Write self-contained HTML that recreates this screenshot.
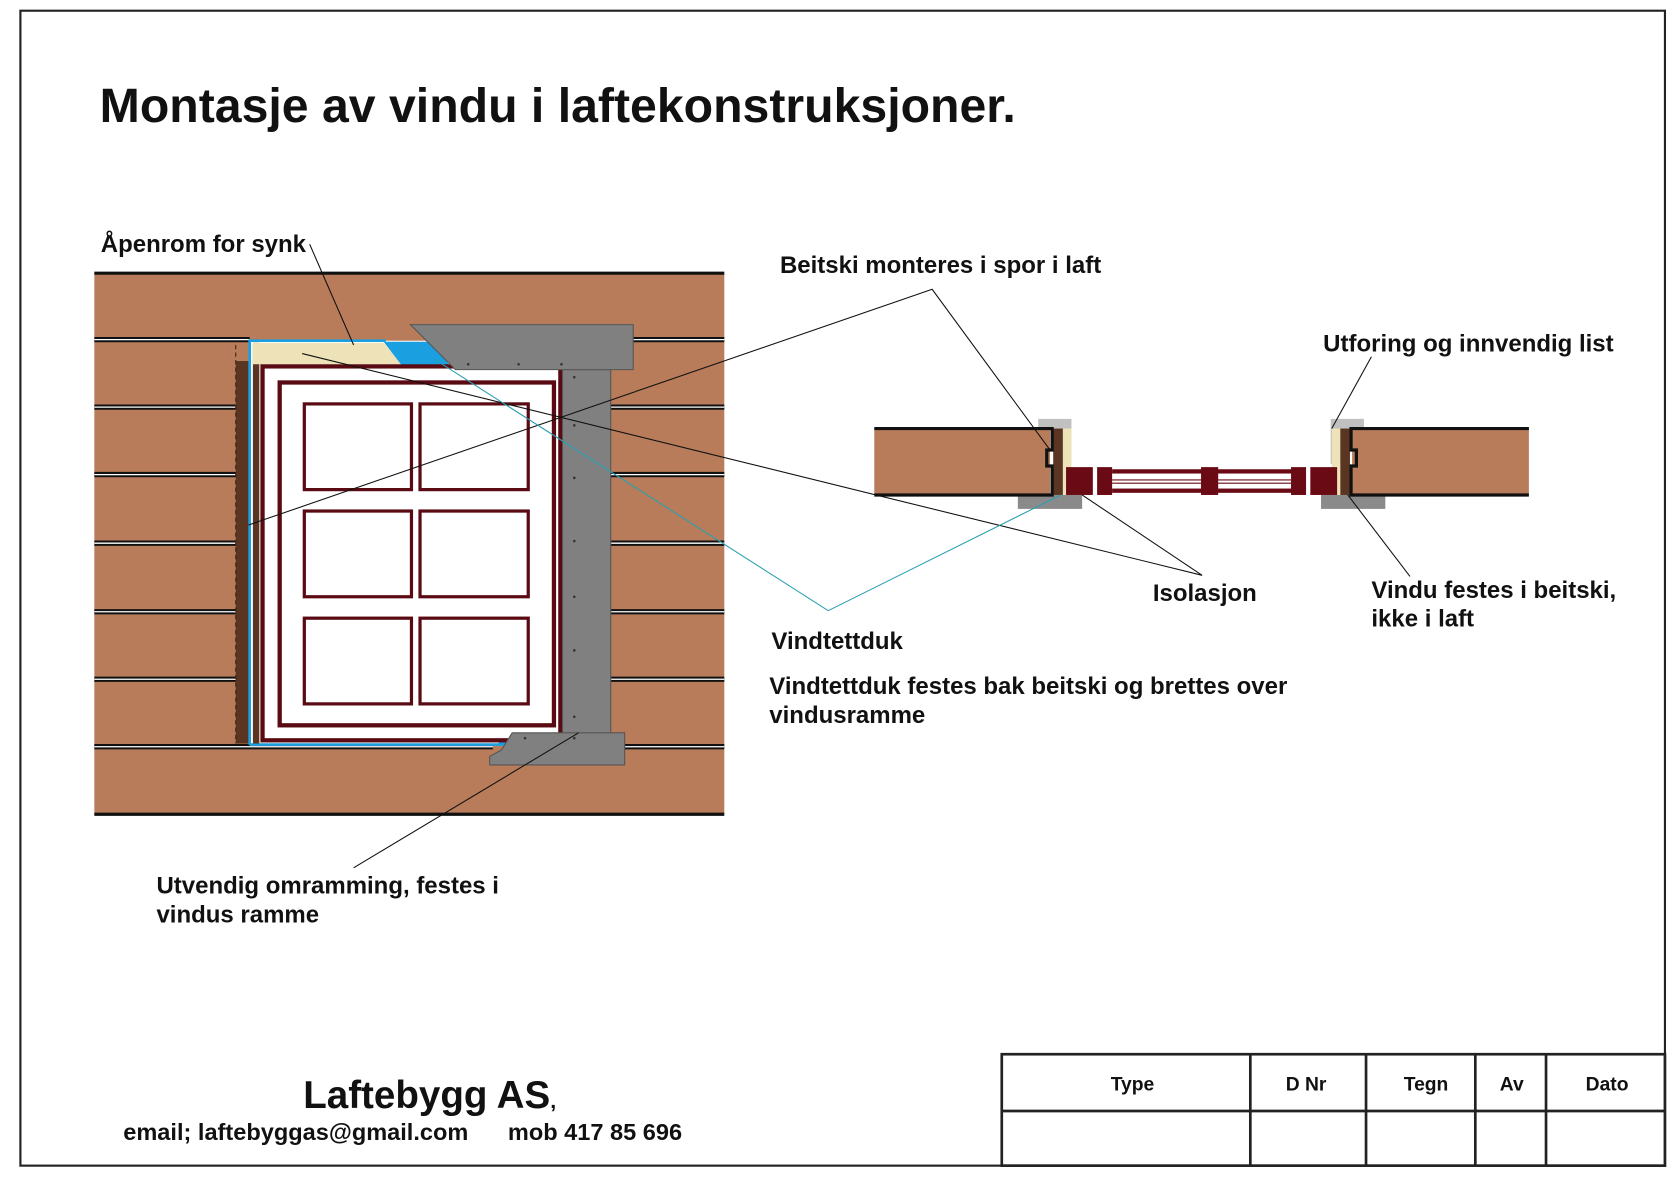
<!DOCTYPE html>
<html><head><meta charset="utf-8"><style>
html,body{margin:0;padding:0;background:#fff;}
svg{display:block;}
text{font-family:"Liberation Sans",Arial,sans-serif;font-weight:bold;fill:#111;}
</style></head><body>
<svg width="1680" height="1186" viewBox="0 0 1568 1107" xmlns="http://www.w3.org/2000/svg">
<rect x="19" y="10" width="1535" height="1078" fill="#fff" stroke="#222" stroke-width="2"/>
<text x="93" y="114" font-size="45">Montasje av vindu i laftekonstruksjoner.</text>

<!-- wall -->
<rect x="88" y="255" width="588" height="505" fill="#b87c5a"/>
<g stroke="#111" stroke-width="3">
<line x1="88" y1="255" x2="676" y2="255"/>
<line x1="88" y1="760" x2="676" y2="760"/>
</g>
<g stroke="#111" stroke-width="5">
<line x1="88" y1="317" x2="233" y2="317"/><line x1="590" y1="317" x2="676" y2="317"/>
<line x1="88" y1="380" x2="233" y2="380"/><line x1="570" y1="380" x2="676" y2="380"/>
<line x1="88" y1="443" x2="233" y2="443"/><line x1="570" y1="443" x2="676" y2="443"/>
<line x1="88" y1="507" x2="233" y2="507"/><line x1="570" y1="507" x2="676" y2="507"/>
<line x1="88" y1="571" x2="233" y2="571"/><line x1="570" y1="571" x2="676" y2="571"/>
<line x1="88" y1="634" x2="233" y2="634"/><line x1="570" y1="634" x2="676" y2="634"/>
<line x1="88" y1="697" x2="460" y2="697"/><line x1="583" y1="697" x2="676" y2="697"/>
</g>
<g stroke="#fff" stroke-width="1.2">
<line x1="88" y1="317" x2="233" y2="317"/><line x1="590" y1="317" x2="676" y2="317"/>
<line x1="88" y1="380" x2="233" y2="380"/><line x1="570" y1="380" x2="676" y2="380"/>
<line x1="88" y1="443" x2="233" y2="443"/><line x1="570" y1="443" x2="676" y2="443"/>
<line x1="88" y1="507" x2="233" y2="507"/><line x1="570" y1="507" x2="676" y2="507"/>
<line x1="88" y1="571" x2="233" y2="571"/><line x1="570" y1="571" x2="676" y2="571"/>
<line x1="88" y1="634" x2="233" y2="634"/><line x1="570" y1="634" x2="676" y2="634"/>
<line x1="88" y1="697" x2="460" y2="697"/><line x1="583" y1="697" x2="676" y2="697"/>
</g>
<!-- opening -->
<rect x="220" y="337" width="13" height="357" fill="#5a3522"/>
<line x1="220" y1="322" x2="220" y2="694" stroke="#3a2010" stroke-dasharray="4,3"/>
<rect x="233" y="318" width="300" height="378" fill="#fff"/>
<polyline points="233,695 233,318 360,318" fill="none" stroke="#1aa0e0" stroke-width="2.5"/>
<line x1="233" y1="695" x2="470" y2="695" stroke="#1aa0e0" stroke-width="2.5"/>
<rect x="236" y="320" width="6" height="374" fill="#5a3522"/>
<polygon points="236,320 358,320 375,340 236,340" fill="#ede2b8"/>
<polygon points="358,319 405,319 422,345 378,345" fill="#1aa0e0"/>
<polygon points="470,684 488,684 478,696 464,696" fill="#1aa0e0"/>
<rect x="245" y="342" width="278" height="349" fill="#fff" stroke="#5a0a12" stroke-width="4"/>
<rect x="261" y="357" width="256" height="320" fill="#fff" stroke="#5a0a12" stroke-width="4"/>
<g fill="#fff" stroke="#5a0a12" stroke-width="3">
<rect x="284" y="377" width="100" height="80"/><rect x="392" y="377" width="101" height="80"/>
<rect x="284" y="477" width="100" height="80"/><rect x="392" y="477" width="101" height="80"/>
<rect x="284" y="577" width="100" height="80"/><rect x="392" y="577" width="101" height="80"/>
</g>
<!-- grey boards -->
<rect x="525" y="345" width="45" height="340" fill="#808080" stroke="#555" stroke-width="1"/>
<polygon points="383,303 591,303 591,345 425,345" fill="#808080" stroke="#555" stroke-width="1"/>
<polygon points="478,684 583,684 583,714 457,714 457,706 468,700" fill="#808080" stroke="#555" stroke-width="1"/>
<g fill="#333">
<circle cx="437" cy="340" r="1.2"/><circle cx="484" cy="340" r="1.2"/><circle cx="524" cy="340" r="1.2"/>
<circle cx="536" cy="352" r="1.2"/><circle cx="536" cy="397" r="1.2"/><circle cx="536" cy="446" r="1.2"/><circle cx="536" cy="505" r="1.2"/><circle cx="536" cy="557" r="1.2"/><circle cx="536" cy="607" r="1.2"/><circle cx="536" cy="669" r="1.2"/><circle cx="536" cy="689" r="1.2"/><circle cx="490" cy="689" r="1.2"/>
</g>

<!-- section -->
<rect x="816" y="400" width="164" height="62" fill="#b87c5a"/>
<rect x="1262" y="400" width="165" height="62" fill="#b87c5a"/>
<polygon points="969,391 1000,391 1000,433 992,433 992,400 969,400" fill="#c0c0c0"/>
<polygon points="1242,391 1273,391 1273,400 1252,400 1252,433 1242,433" fill="#c0c0c0"/>
<rect x="950" y="462" width="60" height="13" fill="#8a8a8a"/>
<rect x="1233" y="462" width="60" height="13" fill="#8a8a8a"/>
<rect x="992" y="400" width="8" height="62" fill="#ede2b8"/>
<rect x="1243" y="400" width="8" height="62" fill="#ede2b8"/>
<rect x="983" y="400" width="9" height="62" fill="#5a3522"/>
<rect x="1251" y="400" width="9" height="62" fill="#5a3522"/>
<g stroke="#111" stroke-width="3" fill="none">
<polyline points="816,400 982,400 982,420 977,420 977,435 982,435 982,462 816,462"/>
<polyline points="1427,400 1261,400 1261,420 1266,420 1266,435 1261,435 1261,462 1427,462"/>
</g>
<g fill="#6a0a14">
<rect x="995" y="436" width="25" height="26"/><rect x="1024" y="436" width="14" height="26"/>
<rect x="1038" y="438" width="172" height="4"/><rect x="1038" y="456" width="172" height="4"/>
<rect x="1121" y="436" width="16" height="26"/>
<rect x="1205" y="436" width="14" height="26"/><rect x="1223" y="436" width="25" height="26"/>
</g>
<line x1="1038" y1="448" x2="1205" y2="448" stroke="#6a0a14" stroke-width="1"/>
<line x1="1038" y1="451" x2="1205" y2="451" stroke="#6a0a14" stroke-width="1"/>

<!-- leaders -->
<g stroke="#111" stroke-width="1" fill="none">
<line x1="289" y1="228" x2="330" y2="322"/>
<polyline points="232,490 870,270 980,420"/>
<polyline points="282,330 1122,537 1010,462"/>
<line x1="330" y1="810" x2="540" y2="684"/>
<line x1="1280" y1="333" x2="1243" y2="400"/>
<line x1="1316" y1="538" x2="1258" y2="462"/>
</g>
<polyline points="405,335 773,570 990,462" fill="none" stroke="#2a9fb0" stroke-width="1"/>

<!-- labels -->
<g font-size="22.4">
<text x="94" y="235">Åpenrom for synk</text>
<text x="728" y="255">Beitski monteres i spor i laft</text>
<text x="1235" y="328">Utforing og innvendig list</text>
<text x="1076" y="561">Isolasjon</text>
<text x="1280" y="558">Vindu festes i beitski,</text>
<text x="1280" y="585">ikke i laft</text>
<text x="720" y="606">Vindtettduk</text>
<text x="718" y="648">Vindtettduk festes bak beitski og brettes over</text>
<text x="718" y="675">vindusramme</text>
<text x="146" y="834">Utvendig omramming, festes i</text>
<text x="146" y="861">vindus ramme</text>
</g>

<!-- footer -->
<text x="283" y="1034" font-size="36">Laftebygg AS<tspan font-size="20">,</tspan></text>
<text x="115" y="1064" font-size="22">email; laftebyggas@gmail.com</text>
<text x="474" y="1064" font-size="22">mob 417 85 696</text>
<g stroke="#222" stroke-width="2.5" fill="none">
<rect x="935" y="984" width="619" height="104"/>
<line x1="935" y1="1037" x2="1554" y2="1037"/>
<line x1="1167" y1="984" x2="1167" y2="1088"/>
<line x1="1275" y1="984" x2="1275" y2="1088"/>
<line x1="1377" y1="984" x2="1377" y2="1088"/>
<line x1="1443" y1="984" x2="1443" y2="1088"/>
</g>
<g font-size="18" text-anchor="middle">
<text x="1057" y="1018">Type</text>
<text x="1219" y="1018">D Nr</text>
<text x="1331" y="1018">Tegn</text>
<text x="1411" y="1018">Av</text>
<text x="1500" y="1018">Dato</text>
</g>
</svg>
</body></html>
